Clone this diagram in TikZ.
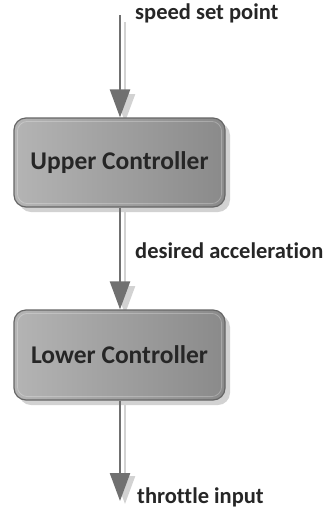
\documentclass[tikz,border=0pt]{standalone}
\usepackage{fontspec}
\setmainfont[Ligatures=NoCommon]{Carlito}
\usetikzlibrary{arrows.meta,shadings}
\definecolor{arrowgray}{HTML}{707070}
\definecolor{shadowgray}{HTML}{D2D2D2}
\definecolor{boxdark}{HTML}{8A8A8A}
\definecolor{boxlight}{HTML}{B4B4B4}
\definecolor{boxborder}{HTML}{666666}
\tikzset{
  % note: y axis is flipped, so left/right colours are swapped here
  ctrlbox/.style={rounded corners=12pt, draw=boxborder, line width=1.2pt,
    left color=boxlight, right color=boxdark,
    minimum width=211pt, minimum height=89pt, inner sep=0pt,
    font=\bfseries\fontsize{25.5}{28}\selectfont, text=black!85},
  boxshadow/.style={rounded corners=12pt, fill=shadowgray, draw=none},
  flow/.style={draw=arrowgray, line width=2.4pt,
    -{Triangle[width=20pt,length=28pt]}, shorten >=0pt},
  flowshadow/.style={draw=shadowgray, line width=2.4pt,
    -{Triangle[width=20pt,length=28pt]}},
  lbl/.style={anchor=base west, inner sep=0pt,
    font=\bfseries\fontsize{22.5}{26}\selectfont, text=black!85}
}
\begin{document}
\begin{tikzpicture}[x=1pt,y=-1pt]
\useasboundingbox (0,0) rectangle (328,515);
% shadows of boxes
\fill[boxshadow] (19,123) rectangle (230,212);
\fill[boxshadow] (19,315) rectangle (230,405);
% arrow shadows
\coordinate (s1a) at (125,22);
\coordinate (s1b) at (125,122);
\coordinate (s2a) at (125,212);
\coordinate (s2b) at (125,314);
\coordinate (s3a) at (125,405);
\coordinate (s3b) at (125,504);
\draw[flowshadow] (s1a) -- (s1b);
\draw[flowshadow] (s2a) -- (s2b);
\draw[flowshadow] (s3a) -- (s3b);
% boxes
\node[ctrlbox] (upper) at (119.5,162.5) {Upper Controller};
\node[ctrlbox, minimum height=90pt] (lower) at (119.5,355) {Lower Controller};
% inner highlights
\draw[white, opacity=0.25, line width=0.8pt, rounded corners=10pt]
  ([shift={(4,4)}]upper.north west) rectangle ([shift={(-4,-4)}]upper.south east);
\draw[white, opacity=0.25, line width=0.8pt, rounded corners=10pt]
  ([shift={(4,4)}]lower.north west) rectangle ([shift={(-4,-4)}]lower.south east);
% arrows
\coordinate (in) at (120,15);
\coordinate (out) at (120,501);
\draw[flow] (in) -- (in |- upper.north);
\draw[flow] (upper.south -| in) -- (in |- lower.north);
\draw[flow] (lower.south -| in) -- (out);
% labels
\node[lbl] (l1) at (135,19.5) {speed set point};
\node[lbl] (l2) at (135,258) {desired acceleration};
\node[lbl] (l3) at (137,503) {throttle input};
\end{tikzpicture}
\end{document}
